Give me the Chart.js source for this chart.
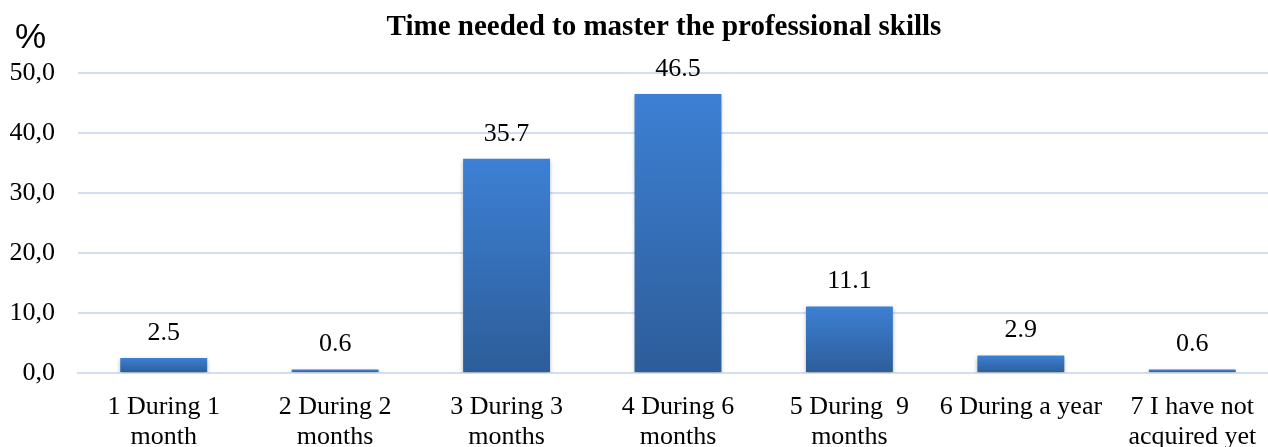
<!DOCTYPE html>
<html>
<head>
<meta charset="utf-8">
<script src="https://cdn.jsdelivr.net/npm/chart.js@4/dist/chart.umd.min.js"></script>
<style>
  html, body { margin: 0; padding: 0; background: #fff; overflow: hidden; }
  #wrap { width: 1278px; height: 447px; position: relative; }
</style>
</head>
<body>
<div id="wrap"><canvas id="skills"></canvas></div>
<script>
const chartTitle = "Time needed to master the professional skills";
const categories = [
    ["1 During 1", "month"],
    ["2 During 2", "months"],
    ["3 During 3", "months"],
    ["4 During 6", "months"],
    ["5 During  9", "months"],
    ["6 During a year"],
    ["7 I have not", "acquired yet"]
];
const shares = [2.5, 0.6, 35.7, 46.5, 11.1, 2.9, 0.6];
const yTicks = [0, 10, 20, 30, 40, 50];

const serif = "'Liberation Serif', 'Times New Roman', serif";
const textColor = "#000000";
const gridColor = "#d3dff0";

// per-bar vertical gradient, lighter on top
function barFill(context) {
    const chart = context.chart;
    const area = chart.chartArea;
    if (!area) return "#3a7acb";
    const y = chart.scales.y;
    const v = context.raw;
    const top = y.getPixelForValue(v);
    const bottom = y.getPixelForValue(0);
    const g = chart.ctx.createLinearGradient(0, top, 0, bottom);
    g.addColorStop(0, "#3d80d4");
    g.addColorStop(1, "#2d5d99");
    return g;
}

const valueLabels = {
    id: "valueLabels",
    afterDatasetsDraw(chart) {
        const ctx = chart.ctx;
        const meta = chart.getDatasetMeta(0);
        ctx.save();
        ctx.font = "26px " + serif;
        ctx.fillStyle = textColor;
        ctx.textAlign = "center";
        ctx.textBaseline = "middle";
        meta.data.forEach(function (bar, i) {
            ctx.fillText(shares[i].toFixed(1), bar.x, bar.y - 25);
        });
        ctx.restore();
    }
};

const barShadow = {
    id: "barShadow",
    beforeDatasetsDraw(chart) {
        const ctx = chart.ctx;
        ctx.save();
        ctx.shadowColor = "rgba(0,0,0,0.28)";
        ctx.shadowBlur = 4;
        ctx.shadowOffsetX = 0;
        ctx.shadowOffsetY = 2;
    },
    afterDatasetsDraw(chart) {
        chart.ctx.restore();
    }
};

// title and the "%" unit mark above the y axis
const headerText = {
    id: "headerText",
    afterDraw(chart) {
        const ctx = chart.ctx;
        ctx.save();
        ctx.fillStyle = textColor;
        ctx.textBaseline = "middle";
        ctx.textAlign = "center";
        ctx.font = "bold 29px " + serif;
        ctx.fillText(chartTitle, 664, 28);
        ctx.textAlign = "left";
        ctx.font = "35px 'Liberation Sans', Arial, sans-serif";
        ctx.fillText("%", 15, 38);
        ctx.restore();
    }
};

new Chart(document.getElementById("skills"), {
    type: "bar",
    data: {
        labels: categories,
        datasets: [{
            label: "%",
            data: shares,
            backgroundColor: barFill,
            borderWidth: 0,
            barPercentage: 0.507,
            categoryPercentage: 1
        }]
    },
    options: {
        responsive: true,
        maintainAspectRatio: false,
        animation: false,
        layout: { padding: { top: 73, right: 0, bottom: 0, left: 0 } },
        plugins: {
            legend: { display: false },
            tooltip: { enabled: false },
            title: { display: false }
        },
        scales: {
            x: {
                afterFit(axis) { axis.height = 74; },
                grid: { display: false, drawTicks: false },
                border: { display: true, color: gridColor, width: 2 },
                ticks: {
                    color: textColor,
                    font: { family: serif, size: 26, lineHeight: 1.12 },
                    padding: 20,
                    maxRotation: 0,
                    autoSkip: false
                }
            },
            y: {
                min: 0,
                max: 50,
                afterBuildTicks(axis) {
                    axis.ticks = yTicks.map(function (v) { return { value: v }; });
                },
                afterFit(axis) { axis.width = 78; },
                grid: { color: gridColor, lineWidth: 2, drawTicks: false },
                border: { display: false },
                ticks: {
                    color: textColor,
                    font: { family: serif, size: 26 },
                    padding: 23,
                    callback: function (v) { return v.toFixed(1).replace(".", ","); }
                }
            }
        }
    },
    plugins: [barShadow, valueLabels, headerText]
});
</script>
</body>
</html>
